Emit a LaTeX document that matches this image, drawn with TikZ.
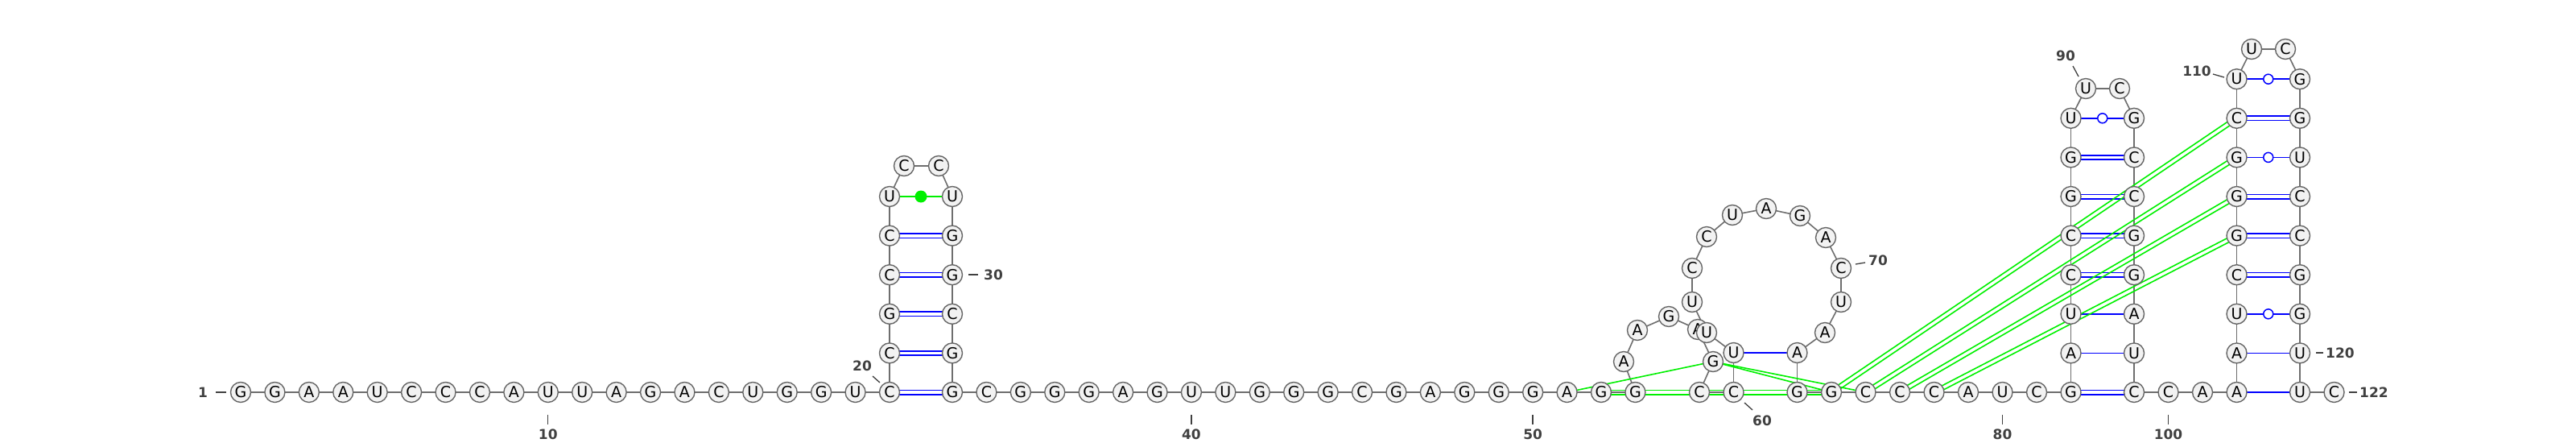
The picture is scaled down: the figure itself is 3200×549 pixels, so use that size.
\documentclass[tikz,border=0pt]{standalone}
\usepackage{fontspec}
\setsansfont{DejaVu Sans}
\usetikzlibrary{calc}
\pgfdeclarelayer{bg}
\pgfsetlayers{bg,main}
\definecolor{ntborder}{HTML}{666666}
\definecolor{ntfill}{HTML}{F2F2F2}
\definecolor{lblgray}{HTML}{404040}
\definecolor{pairblue}{HTML}{0000FF}
\definecolor{pairgreen}{HTML}{00F000}
\definecolor{bbgray}{HTML}{6E6E6E}
\newcommand{\dblline}[3]{%
  \draw[#1] ($(#2)!2.7pt!90:(#3)$) -- ($(#3)!2.7pt!-90:(#2)$);%
  \draw[#1] ($(#2)!2.7pt!-90:(#3)$) -- ($(#3)!2.7pt!90:(#2)$);}
\begin{document}
\begin{tikzpicture}[x=1pt,y=-1pt,
  nt/.style={circle,draw=ntborder,fill=ntfill,line width=1.4pt,minimum size=25pt,inner sep=0pt,font=\sffamily\fontsize{19}{19}\selectfont},
  bb/.style={draw=bbgray,line width=1.6pt},
  bpair/.style={draw=pairblue,line width=1.6pt},
  gpair/.style={draw=pairgreen,line width=1.6pt},
  wob/.style={circle,draw=pairblue,fill=white,line width=1.5pt,minimum size=12pt,inner sep=0pt},
  gdot/.style={circle,fill=pairgreen,minimum size=15pt,inner sep=0pt},
  lbl/.style={text=lblgray,font=\sffamily\bfseries\fontsize{17}{17}\selectfont,inner sep=0pt},
  tick/.style={draw=lblgray,line width=1.3pt}]
\begin{pgfonlayer}{bg}
\fill[white] (0,0) rectangle (3200,549);
\end{pgfonlayer}
\path[use as bounding box] (0,0) rectangle (3200,549);
% nucleotides 1-20
\foreach \n/\b in {1/G,2/G,3/A,4/A,5/U,6/C,7/C,8/C,9/A,10/U,11/U,12/A,13/G,14/A,15/C,16/U,17/G,18/G,19/U,20/C}
  \node[nt] (n\n) at ({299+(\n-1)*42.42},487) {\b};
% hairpin 1
\node[nt] (n21) at (1105,438.4) {C};
\node[nt] (n22) at (1105,389.8) {G};
\node[nt] (n23) at (1105,341.2) {C};
\node[nt] (n24) at (1105,292.6) {C};
\node[nt] (n25) at (1105,244) {U};
\node[nt] (n26) at (1123,206) {C};
\node[nt] (n27) at (1166,206) {C};
\node[nt] (n28) at (1183,244) {U};
\node[nt] (n29) at (1183,292.6) {G};
\node[nt] (n30) at (1183,341.2) {G};
\node[nt] (n31) at (1183,389.8) {C};
\node[nt] (n32) at (1183,438.4) {G};
\node[nt] (n33) at (1183,487) {G};
% 34-53
\foreach \n/\b in {34/C,35/G,36/G,37/G,38/A,39/G,40/U,41/U,42/G,43/G,44/G,45/C,46/G,47/A,48/G,49/G,50/G,51/A,52/G,53/G}
  \node[nt] (n\n) at ({1183+(\n-33)*42.42},487) {\b};
% pseudoknot region
\node[nt] (n54) at (2017,449) {A};
\node[nt] (n55) at (2034,410) {A};
\node[nt] (n56) at (2073,393) {G};
\node[nt] (n57) at (2109,409) {A};
\node[nt] (n58) at (2128,449) {G};
\node[nt] (n59) at (2111,487) {C};
\node[nt] (n60) at (2153.5,487) {C};
\node[nt] (n61) at (2153.5,438) {U};
\node[nt] (n62) at (2120,413) {U};
\node[nt] (n63) at (2102,375) {U};
\node[nt] (n64) at (2102,333) {C};
\node[nt] (n65) at (2120,294) {C};
\node[nt] (n66) at (2152,267) {U};
\node[nt] (n67) at (2194,259) {A};
\node[nt] (n68) at (2236,268) {G};
\node[nt] (n69) at (2268,295) {A};
\node[nt] (n70) at (2287,333) {C};
\node[nt] (n71) at (2287,375) {U};
\node[nt] (n72) at (2267,413) {A};
\node[nt] (n73) at (2232.5,438) {A};
\node[nt] (n74) at (2232.5,487) {G};
% 75-82
\foreach \n/\b in {75/G,76/C,77/C,78/C,79/A,80/U,81/C,82/G}
  \node[nt] (n\n) at ({2275+(\n-75)*42.5},487) {\b};
% hairpin 2
\node[nt] (n83) at (2572.5,438.4) {A};
\node[nt] (n84) at (2572.5,389.8) {U};
\node[nt] (n85) at (2572.5,341.2) {C};
\node[nt] (n86) at (2572.5,292.6) {C};
\node[nt] (n87) at (2572.5,244) {G};
\node[nt] (n88) at (2572.5,195.4) {G};
\node[nt] (n89) at (2572.5,146.8) {U};
\node[nt] (n90) at (2591,110) {U};
\node[nt] (n91) at (2633,110) {C};
\node[nt] (n92) at (2651,146.8) {G};
\node[nt] (n93) at (2651,195.4) {C};
\node[nt] (n94) at (2651,244) {C};
\node[nt] (n95) at (2651,292.6) {G};
\node[nt] (n96) at (2651,341.2) {G};
\node[nt] (n97) at (2651,389.8) {A};
\node[nt] (n98) at (2651,438.4) {U};
\node[nt] (n99) at (2651,487) {C};
\node[nt] (n100) at (2693.5,487) {C};
\node[nt] (n101) at (2736,487) {A};
\node[nt] (n102) at (2778.5,487) {A};
% hairpin 3
\node[nt] (n103) at (2778.5,438.4) {A};
\node[nt] (n104) at (2778.5,389.8) {U};
\node[nt] (n105) at (2778.5,341.2) {C};
\node[nt] (n106) at (2778.5,292.6) {G};
\node[nt] (n107) at (2778.5,244) {G};
\node[nt] (n108) at (2778.5,195.4) {G};
\node[nt] (n109) at (2778.5,146.8) {C};
\node[nt] (n110) at (2778.5,98.2) {U};
\node[nt] (n111) at (2797,61) {U};
\node[nt] (n112) at (2839,61) {C};
\node[nt] (n113) at (2857,98.2) {G};
\node[nt] (n114) at (2857,146.8) {G};
\node[nt] (n115) at (2857,195.4) {U};
\node[nt] (n116) at (2857,244) {C};
\node[nt] (n117) at (2857,292.6) {C};
\node[nt] (n118) at (2857,341.2) {G};
\node[nt] (n119) at (2857,389.8) {G};
\node[nt] (n120) at (2857,438.4) {U};
\node[nt] (n121) at (2857,487) {U};
\node[nt] (n122) at (2899.5,487) {C};
% connectors on background
\begin{pgfonlayer}{bg}
  \foreach \i in {1,...,121} {
    \pgfmathtruncatemacro\j{\i+1}
    \draw[bb] (n\i.center) -- (n\j.center);
  }
  % blue pairs
  \foreach \a/\b in {20/33,21/32,22/31,23/30,24/29,82/99,85/96,86/95,87/94,88/93,105/118,106/117,107/116,109/114}
    {\dblline{bpair}{n\a}{n\b}}
  \foreach \a/\b in {61/73,83/98,84/97,102/121,103/120,89/92,104/119,108/115,110/113}
    {\draw[bpair] (n\a.center) -- (n\b.center);}
  \draw[gpair] (n25.center) -- (n28.center);
  % green interactions
  \draw[gpair] (n51.center) -- (n58.center);
  \draw[gpair] (n58.center) -- (n75.center);
  \draw[gpair] (n58.center) -- (n76.center);
  \dblline{gpair}{n52}{n75}
  \dblline{gpair}{n75}{n109}
  \dblline{gpair}{n76}{n108}
  \dblline{gpair}{n77}{n107}
  \dblline{gpair}{n78}{n106}
\end{pgfonlayer}
% pair symbols
\node[gdot] (d1) at ($(n25)!0.5!(n28)$) {};
\node[wob] (w1) at ($(n89)!0.5!(n92)$) {};
\node[wob] (w2) at ($(n104)!0.5!(n119)$) {};
\node[wob] (w3) at ($(n108)!0.5!(n115)$) {};
\node[wob] (w4) at ($(n110)!0.5!(n113)$) {};
% numbering
\draw[tick] (268,487) -- (281,487); \node[lbl] (l1) at (252,487) {1};
\draw[tick] (680.78,515) -- (680.78,527); \node[lbl] (l10) at (680.78,539) {10};
\draw[tick] (1084,467) -- (1093,475); \node[lbl] (l20) at (1071,454) {20};
\draw[tick] (1203,341) -- (1215,341); \node[lbl,anchor=west] (l30) at (1222,341) {30};
\draw[tick] (1479.9,515) -- (1479.9,527); \node[lbl] (l40) at (1479.9,539) {40};
\draw[tick] (1904.1,515) -- (1904.1,527); \node[lbl] (l50) at (1904.1,539) {50};
\draw[tick] (2167,500) -- (2177,509); \node[lbl] (l60) at (2189,522) {60};
\draw[tick] (2305,328) -- (2317,326); \node[lbl,anchor=west] (l70) at (2321,323) {70};
\draw[tick] (2487.5,515) -- (2487.5,527); \node[lbl] (l80) at (2487.5,539) {80};
\draw[tick] (2575,82) -- (2582,95); \node[lbl] (l90) at (2566,69) {90};
\draw[tick] (2693.5,515) -- (2693.5,527); \node[lbl] (l100) at (2693.5,539) {100};
\draw[tick] (2749,92) -- (2763,96); \node[lbl] (l110) at (2729,88) {110};
\draw[tick] (2877,438) -- (2886,438); \node[lbl,anchor=west] (l120) at (2889,438) {120};
\draw[tick] (2918,487) -- (2928,487); \node[lbl,anchor=west] (l122) at (2931,487) {122};
\end{tikzpicture}
\end{document}
